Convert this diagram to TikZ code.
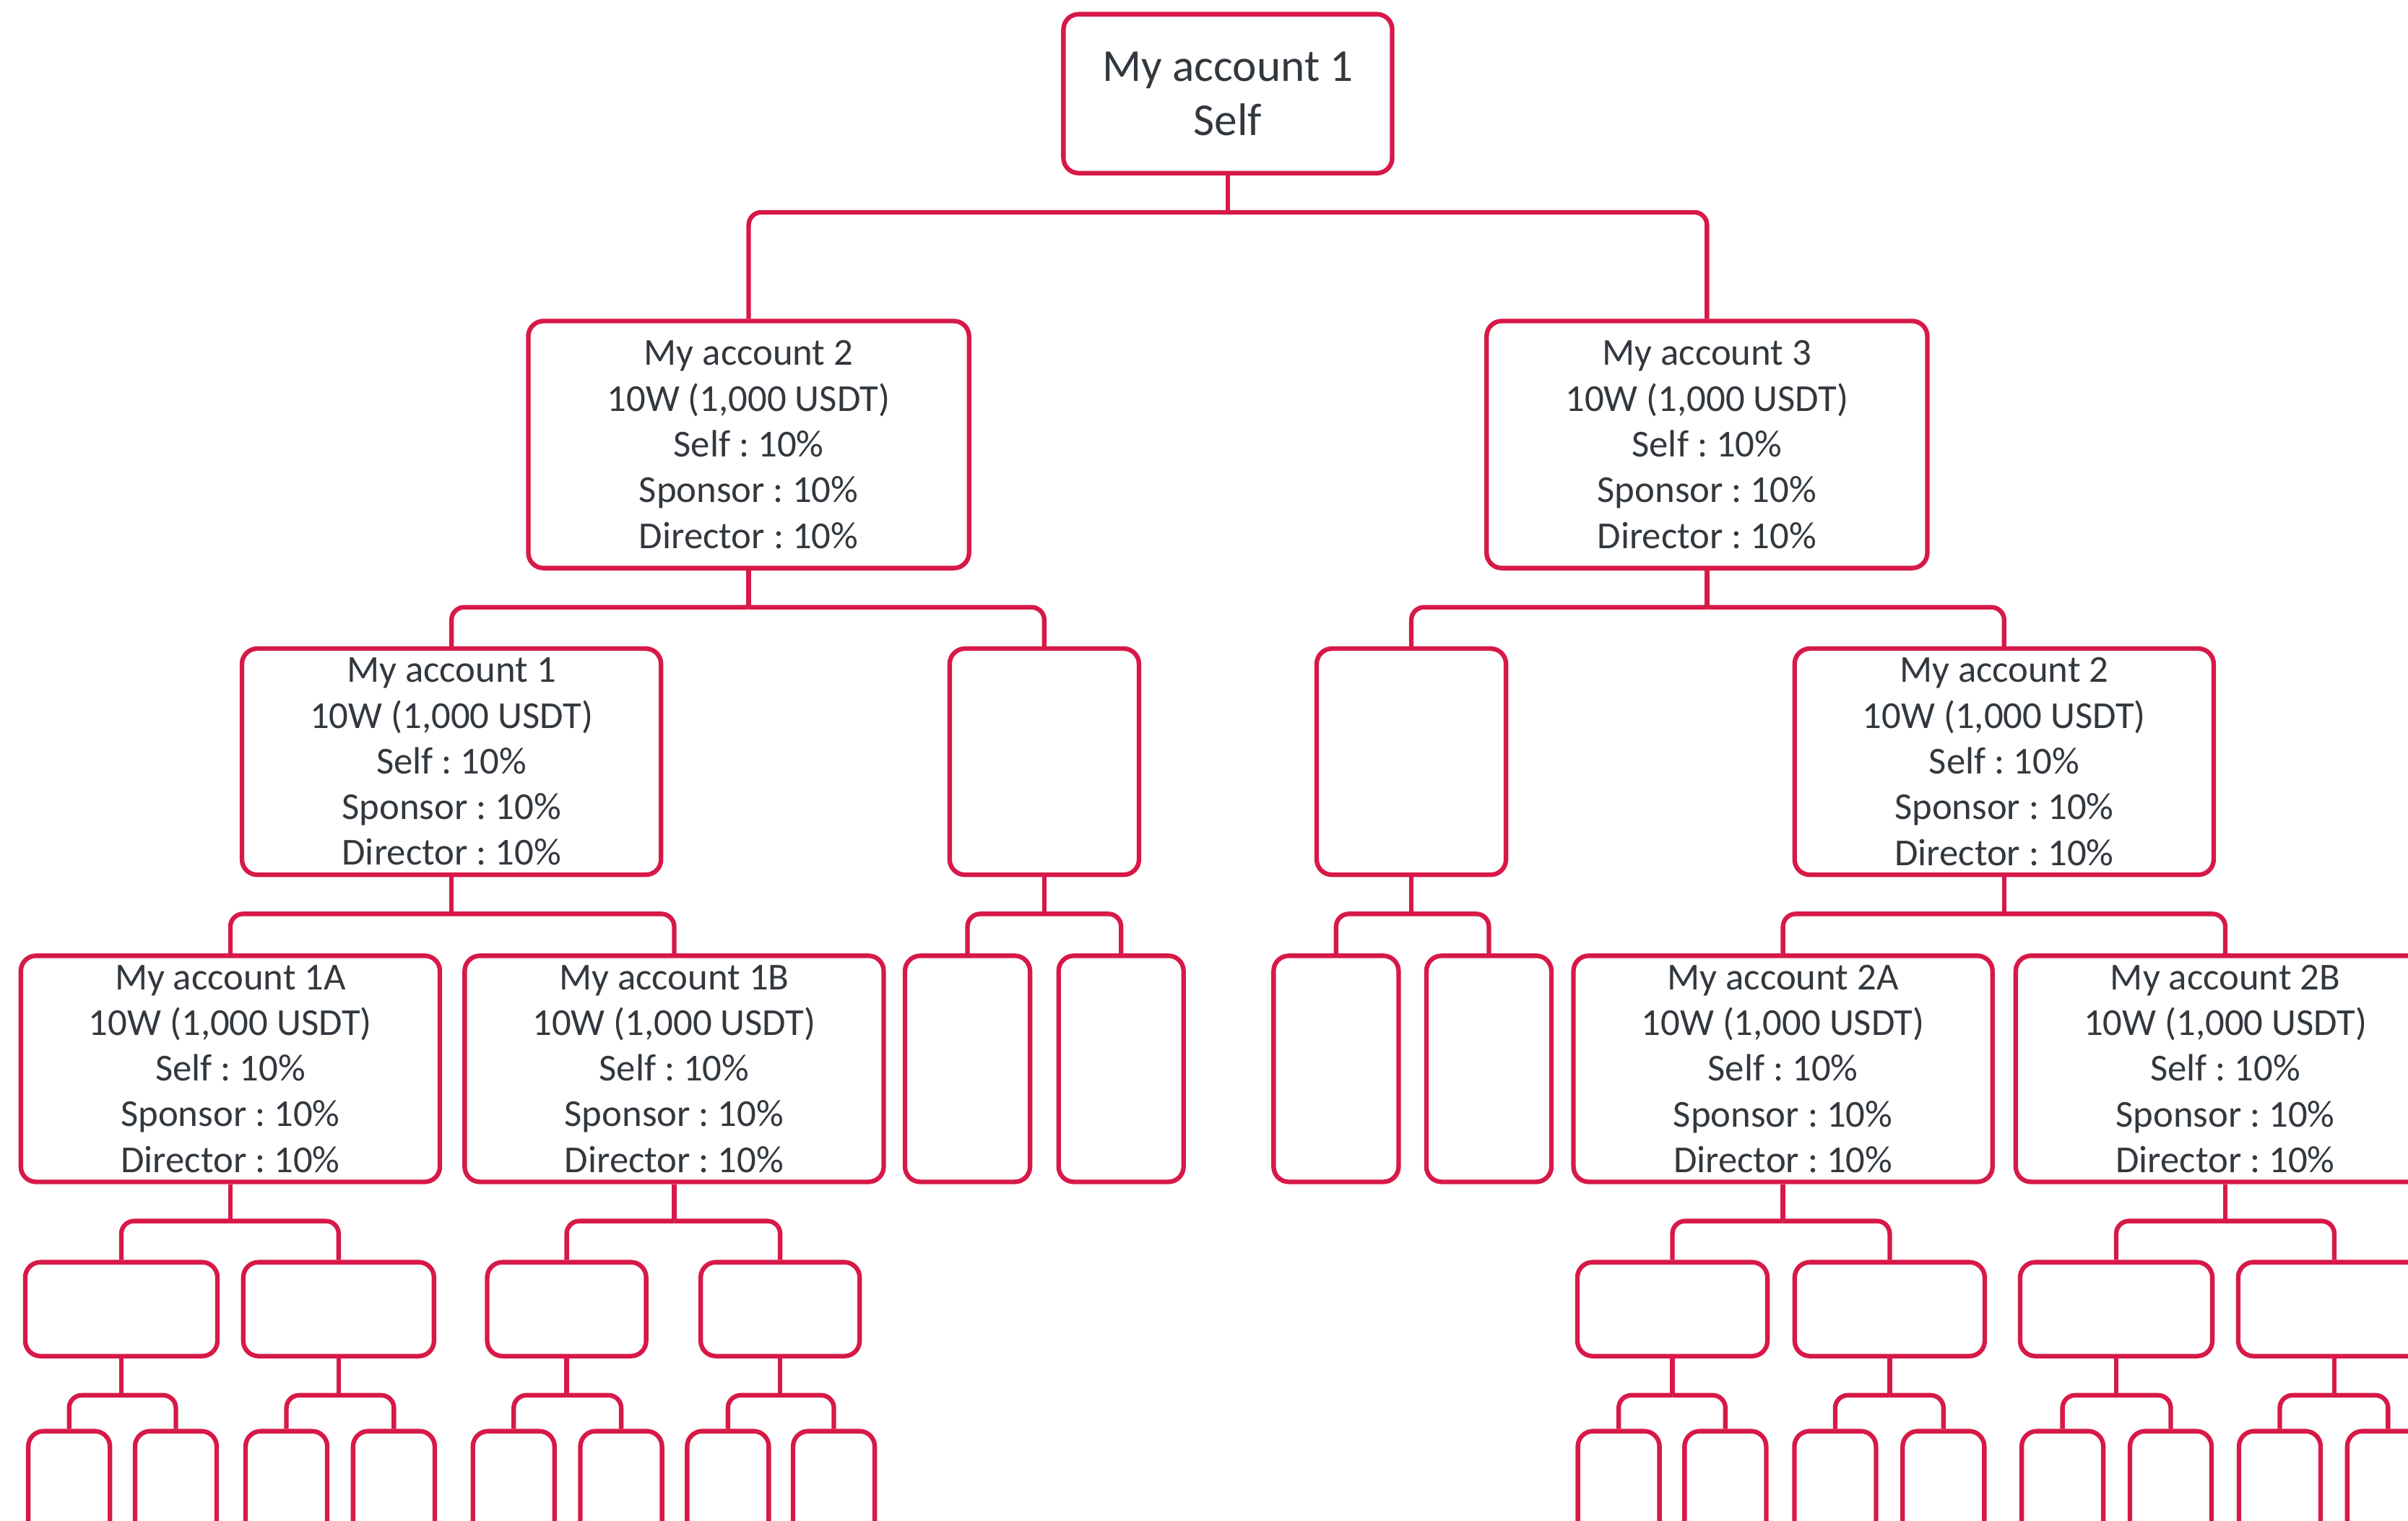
\documentclass[tikz,border=0pt]{standalone}
\usepackage{fontspec}
\setmainfont{Carlito}
\usepackage{xcolor}
\definecolor{accred}{RGB}{215,25,72}
\definecolor{txtgray}{RGB}{50,56,62}
\frenchspacing
\tikzset{
  acct/.style={draw=accred, line width=1.8pt, rounded corners=6pt, align=center, text=txtgray,
    inner sep=0pt, font=\fontsize{15}{18}\selectfont},
  bigbox/.style={acct, minimum width=5.8cm, minimum height=3.13cm},
  slim/.style={acct, minimum width=1.73cm, minimum height=3.13cm},
  midbox/.style={acct, minimum width=2.64cm, minimum height=1.3cm},
  tinybox/.style={acct, minimum width=1.13cm, minimum height=1.49cm},
  link/.style={draw=accred, line width=1.8pt},
}
\begin{document}
\begin{tikzpicture}[x=0.021263cm, y=-0.021263cm]
		\useasboundingbox (0,0) rectangle (1568,990);
		\clip (0,0) rectangle (1568,990);
		% top
		\node[acct, minimum width=4.55cm, minimum height=2.2cm, font=\fontsize{18}{21.5}\selectfont] (root) at (799.5,61) {My account 1\\Self};
		\node[bigbox, minimum width=6.1cm, minimum height=3.42cm] (a2) at (487.5,289.5) {My account 2\\10W (1,000 USDT)\\Self : 10\%\\Sponsor : 10\%\\Director : 10\%};
		\node[bigbox, minimum width=6.1cm, minimum height=3.42cm] (a3) at (1111.5,289.5) {My account 3\\10W (1,000 USDT)\\Self : 10\%\\Sponsor : 10\%\\Director : 10\%};
		% second row
		\node[bigbox] (b1) at (294,496) {My account 1\\10W (1,000 USDT)\\Self : 10\%\\Sponsor : 10\%\\Director : 10\%};
		\node[slim, minimum width=2.62cm] (b2) at (680,496) {};
		\node[slim, minimum width=2.62cm] (b3) at (919,496) {};
		\node[bigbox] (b4) at (1305,496) {My account 2\\10W (1,000 USDT)\\Self : 10\%\\Sponsor : 10\%\\Director : 10\%};
		% third row
		\node[bigbox] (c1) at (150,696) {My account 1A\\10W (1,000 USDT)\\Self : 10\%\\Sponsor : 10\%\\Director : 10\%};
		\node[bigbox] (c2) at (439,696) {My account 1B\\10W (1,000 USDT)\\Self : 10\%\\Sponsor : 10\%\\Director : 10\%};
		\node[slim] (c3) at (630,696) {};
		\node[slim] (c4) at (730,696) {};
		\node[slim] (c5) at (870,696) {};
		\node[slim] (c6) at (969.5,696) {};
		\node[bigbox] (c7) at (1161,696) {My account 2A\\10W (1,000 USDT)\\Self : 10\%\\Sponsor : 10\%\\Director : 10\%};
		\node[bigbox] (c8) at (1449,696) {My account 2B\\10W (1,000 USDT)\\Self : 10\%\\Sponsor : 10\%\\Director : 10\%};
		% empty rows
		\foreach \n/\x/\w in {d1/79/2.66, d2/220.5/2.64, d3/369/2.2, d4/508/2.2, d5/1089/2.63, d6/1230.5/2.63, d7/1378/2.66, d8/1520/2.66}
			\node[midbox, minimum width=\w cm] (\n) at (\x,852.5) {};
		\foreach \n/\x in {e1/45, e2/114.5, e3/186.5, e4/256.5, e5/334.5, e6/404.5, e7/474, e8/543,
			e9/1054, e10/1123.5, e11/1195, e12/1265.5, e13/1343, e14/1413.5, e15/1484.5, e16/1555}
			\node[tinybox] (\n) at (\x,967) {};
		% links (y axis points down)
		\foreach \p/\l/\r in {root/a2/a3, a2/b1/b2, a3/b3/b4, b1/c1/c2, b2/c3/c4, b3/c5/c6, b4/c7/c8,
			c1/d1/d2, c2/d3/d4, c7/d5/d6, c8/d7/d8, d1/e1/e2, d2/e3/e4, d3/e5/e6, d4/e7/e8,
			d5/e9/e10, d6/e11/e12, d7/e13/e14, d8/e15/e16} {
			\draw[link] (\p.south) -- ++(0,24) coordinate (bar);
			\draw[link, rounded corners=5pt] (bar) -| (\l.north);
			\draw[link, rounded corners=5pt] (bar) -| (\r.north);
		}
		\end{tikzpicture}
\end{document}
